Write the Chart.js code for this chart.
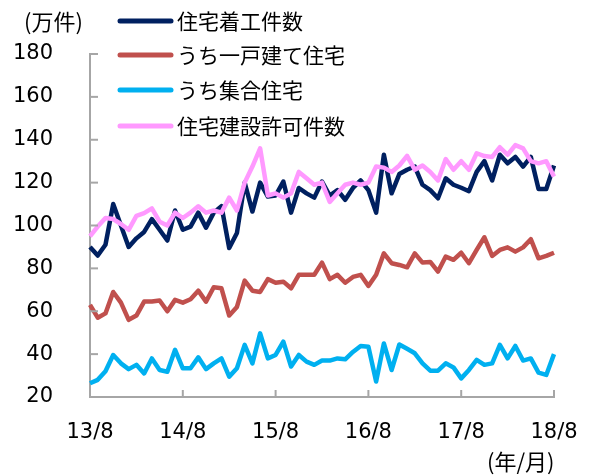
<!DOCTYPE html>
<html>
<head>
<meta charset="utf-8">
<script src="https://cdn.jsdelivr.net/npm/chart.js@4.4.0/dist/chart.umd.min.js"></script>
<style>
    html, body { margin: 0; padding: 0; background: #fff; }
</style>
</head>
<body>
<canvas id="lineChart" width="594" height="475"></canvas>
<script>
(function () {
    "use strict";

    // monthly, 2013/8 .. 2018/8 (万件, annualised)
    var startYear = 13, startMonth = 8, monthCount = 61;
    var tickLabels = ["13/8", "14/8", "15/8", "16/8", "17/8", "18/8"];
    var yTicks = [20, 40, 60, 80, 100, 120, 140, 160, 180];

    var housingStarts = [90, 86, 91, 110, 100, 90, 94, 97, 103, 98,
        93, 107, 98, 99.5, 106, 99, 106, 109, 89.5, 96.5,
        120, 106.5, 120, 113.5, 114, 120.5, 106, 117.5, 115, 113,
        120.5, 114, 116.5, 112, 117.5, 121, 116.5, 106, 133, 115,
        124, 126, 127.5, 119, 116.5, 112.7, 122, 119, 117.6, 116,
        125, 130, 121, 133, 129, 132, 127.5, 132, 117, 117, 128];
    var singleFamily = [63, 57, 59, 69, 64, 56, 58, 64.5, 64.5, 65,
        60, 65.3, 64, 65.6, 69.6, 64.5, 71.2, 70.7, 58, 62,
        74.3, 69.6, 69, 75, 73.3, 73.8, 70.7, 77, 77, 77,
        82.7, 75, 77, 73.3, 76, 77, 71.8, 77, 87, 82.4,
        81.6, 80.5, 87, 82.7, 83, 78.5, 85.5, 84, 87.3, 82.4,
        88.6, 94.5, 85.8, 88.6, 89.8, 87.8, 89.8, 93.6, 84.7, 85.8, 87.3];
    var multiFamily = [26.4, 28, 32, 39.6, 35.7, 33, 35, 31, 38, 32.6,
        31.8, 42, 33.4, 33.4, 38.5, 33, 35.7, 38, 29.5, 33.4,
        44.3, 35.7, 49.7, 38, 39.6, 45.8, 34.2, 39.6, 36.5, 35,
        37, 37, 38, 37.6, 41, 43.8, 43.4, 27.2, 45, 32.6,
        44.5, 42.5, 40.4, 35.7, 32.3, 32.3, 35.7, 33.8, 28.7, 32.6,
        37.3, 35, 35.7, 44.3, 38, 43.8, 37, 38, 31.4, 30.3, 40];
    var permits = [95, 99.5, 103.5, 103, 100.7, 98, 104.5, 105.8, 108, 101.8,
        100, 106, 103.5, 106, 109, 106, 107, 106, 113, 107,
        120, 127.5, 136, 114, 115, 113, 115, 125, 122, 119,
        120, 111, 115, 119, 120, 119, 120, 127.5, 127, 125,
        128, 132.5, 126, 128, 125, 121, 131, 126, 130, 126,
        133.7, 132.4, 132, 136.5, 133, 137.5, 136, 130, 129, 130, 122.8];

    var seriesNames = ["住宅着工件数", "うち一戸建て住宅", "うち集合住宅", "住宅建設許可件数"];
    var seriesColors = ["#002060", "#C0504D", "#00B0F0", "#FF99FF"];

    var months = [];
    for (var i = 0; i < monthCount; i++) {
        var m = startMonth + i;
        months.push((startYear + Math.floor((m - 1) / 12)) + "/" + (((m - 1) % 12) + 1));
    }

    var axisColor = "#A6A6A6";
    var numFont = "'DejaVu Sans', Verdana, sans-serif";
    var jpFont = "'Noto Sans CJK JP', sans-serif";

    function line(idx, data, order) {
        return {
            label: seriesNames[idx],
            data: data,
            borderColor: seriesColors[idx],
            backgroundColor: seriesColors[idx],
            borderWidth: 4.5,
            pointRadius: 0,
            tension: 0,
            fill: false,
            order: order,
            borderJoinStyle: "round"
        };
    }

    // inner tick marks, yearly x labels, legend and unit texts
    var decorations = {
        id: "decorations",
        afterDraw: function (chart) {
            var ctx = chart.ctx;
            var xs = chart.scales.x, ys = chart.scales.y;
            var area = chart.chartArea;
            ctx.save();
            ctx.strokeStyle = axisColor;
            ctx.lineWidth = 2;
            ys.ticks.forEach(function (t) {
                var py = ys.getPixelForValue(t.value);
                ctx.beginPath();
                ctx.moveTo(area.left, py);
                ctx.lineTo(area.left + 8, py);
                ctx.stroke();
            });
            ctx.fillStyle = "#000";
            ctx.textAlign = "center";
            ctx.textBaseline = "middle";
            ctx.font = "21px " + numFont;
            for (var k = 0; k < monthCount; k += 12) {
                var px = xs.getPixelForValue(k);
                ctx.beginPath();
                ctx.moveTo(px, area.bottom);
                ctx.lineTo(px, area.bottom - 7);
                ctx.stroke();
                ctx.fillText(tickLabels[k / 12], px, area.bottom + 36);
            }

            var rows = [21, 55, 90, 126];
            ctx.lineCap = "round";
            ctx.textAlign = "left";
            ctx.font = "21px " + jpFont;
            for (var r = 0; r < seriesNames.length; r++) {
                ctx.strokeStyle = seriesColors[r];
                ctx.lineWidth = 5;
                ctx.beginPath();
                ctx.moveTo(120, rows[r]);
                ctx.lineTo(171, rows[r]);
                ctx.stroke();
                ctx.fillText(seriesNames[r], 177, rows[r]);
            }

            ctx.font = "22px " + jpFont;
            ctx.fillText("(万件)", 24, 22);
            ctx.fillText("(年/月)", 487, 462);
            ctx.restore();
        }
    };

    var ctx = document.getElementById("lineChart").getContext("2d");
    var housingChart = new Chart(ctx, {
        type: "line",
        data: {
            labels: months,
            datasets: [
                line(0, housingStarts, 1),
                line(1, singleFamily, 2),
                line(2, multiFamily, 3),
                line(3, permits, 0)
            ]
        },
        options: {
            responsive: false,
            animation: false,
            layout: { padding: { left: 0, right: 40, top: 54, bottom: 18 } },
            plugins: {
                legend: { display: false },
                tooltip: { enabled: false }
            },
            scales: {
                x: {
                    type: "category",
                    offset: false,
                    grid: { display: false, drawTicks: false },
                    border: { display: true, color: axisColor, width: 2 },
                    ticks: { display: false },
                    afterFit: function (scale) { scale.height = 60; }
                },
                y: {
                    min: 20,
                    max: 180,
                    grid: { display: false, drawTicks: false },
                    border: { display: true, color: axisColor, width: 2 },
                    afterBuildTicks: function (scale) {
                        scale.ticks = yTicks.map(function (v) { return { value: v }; });
                    },
                    ticks: {
                        padding: 37,
                        color: "#000",
                        font: { family: numFont, size: 21 }
                    },
                    afterFit: function (scale) { scale.width = 90; }
                }
            }
        },
        plugins: [decorations]
    });
})();
</script>
</body>
</html>
